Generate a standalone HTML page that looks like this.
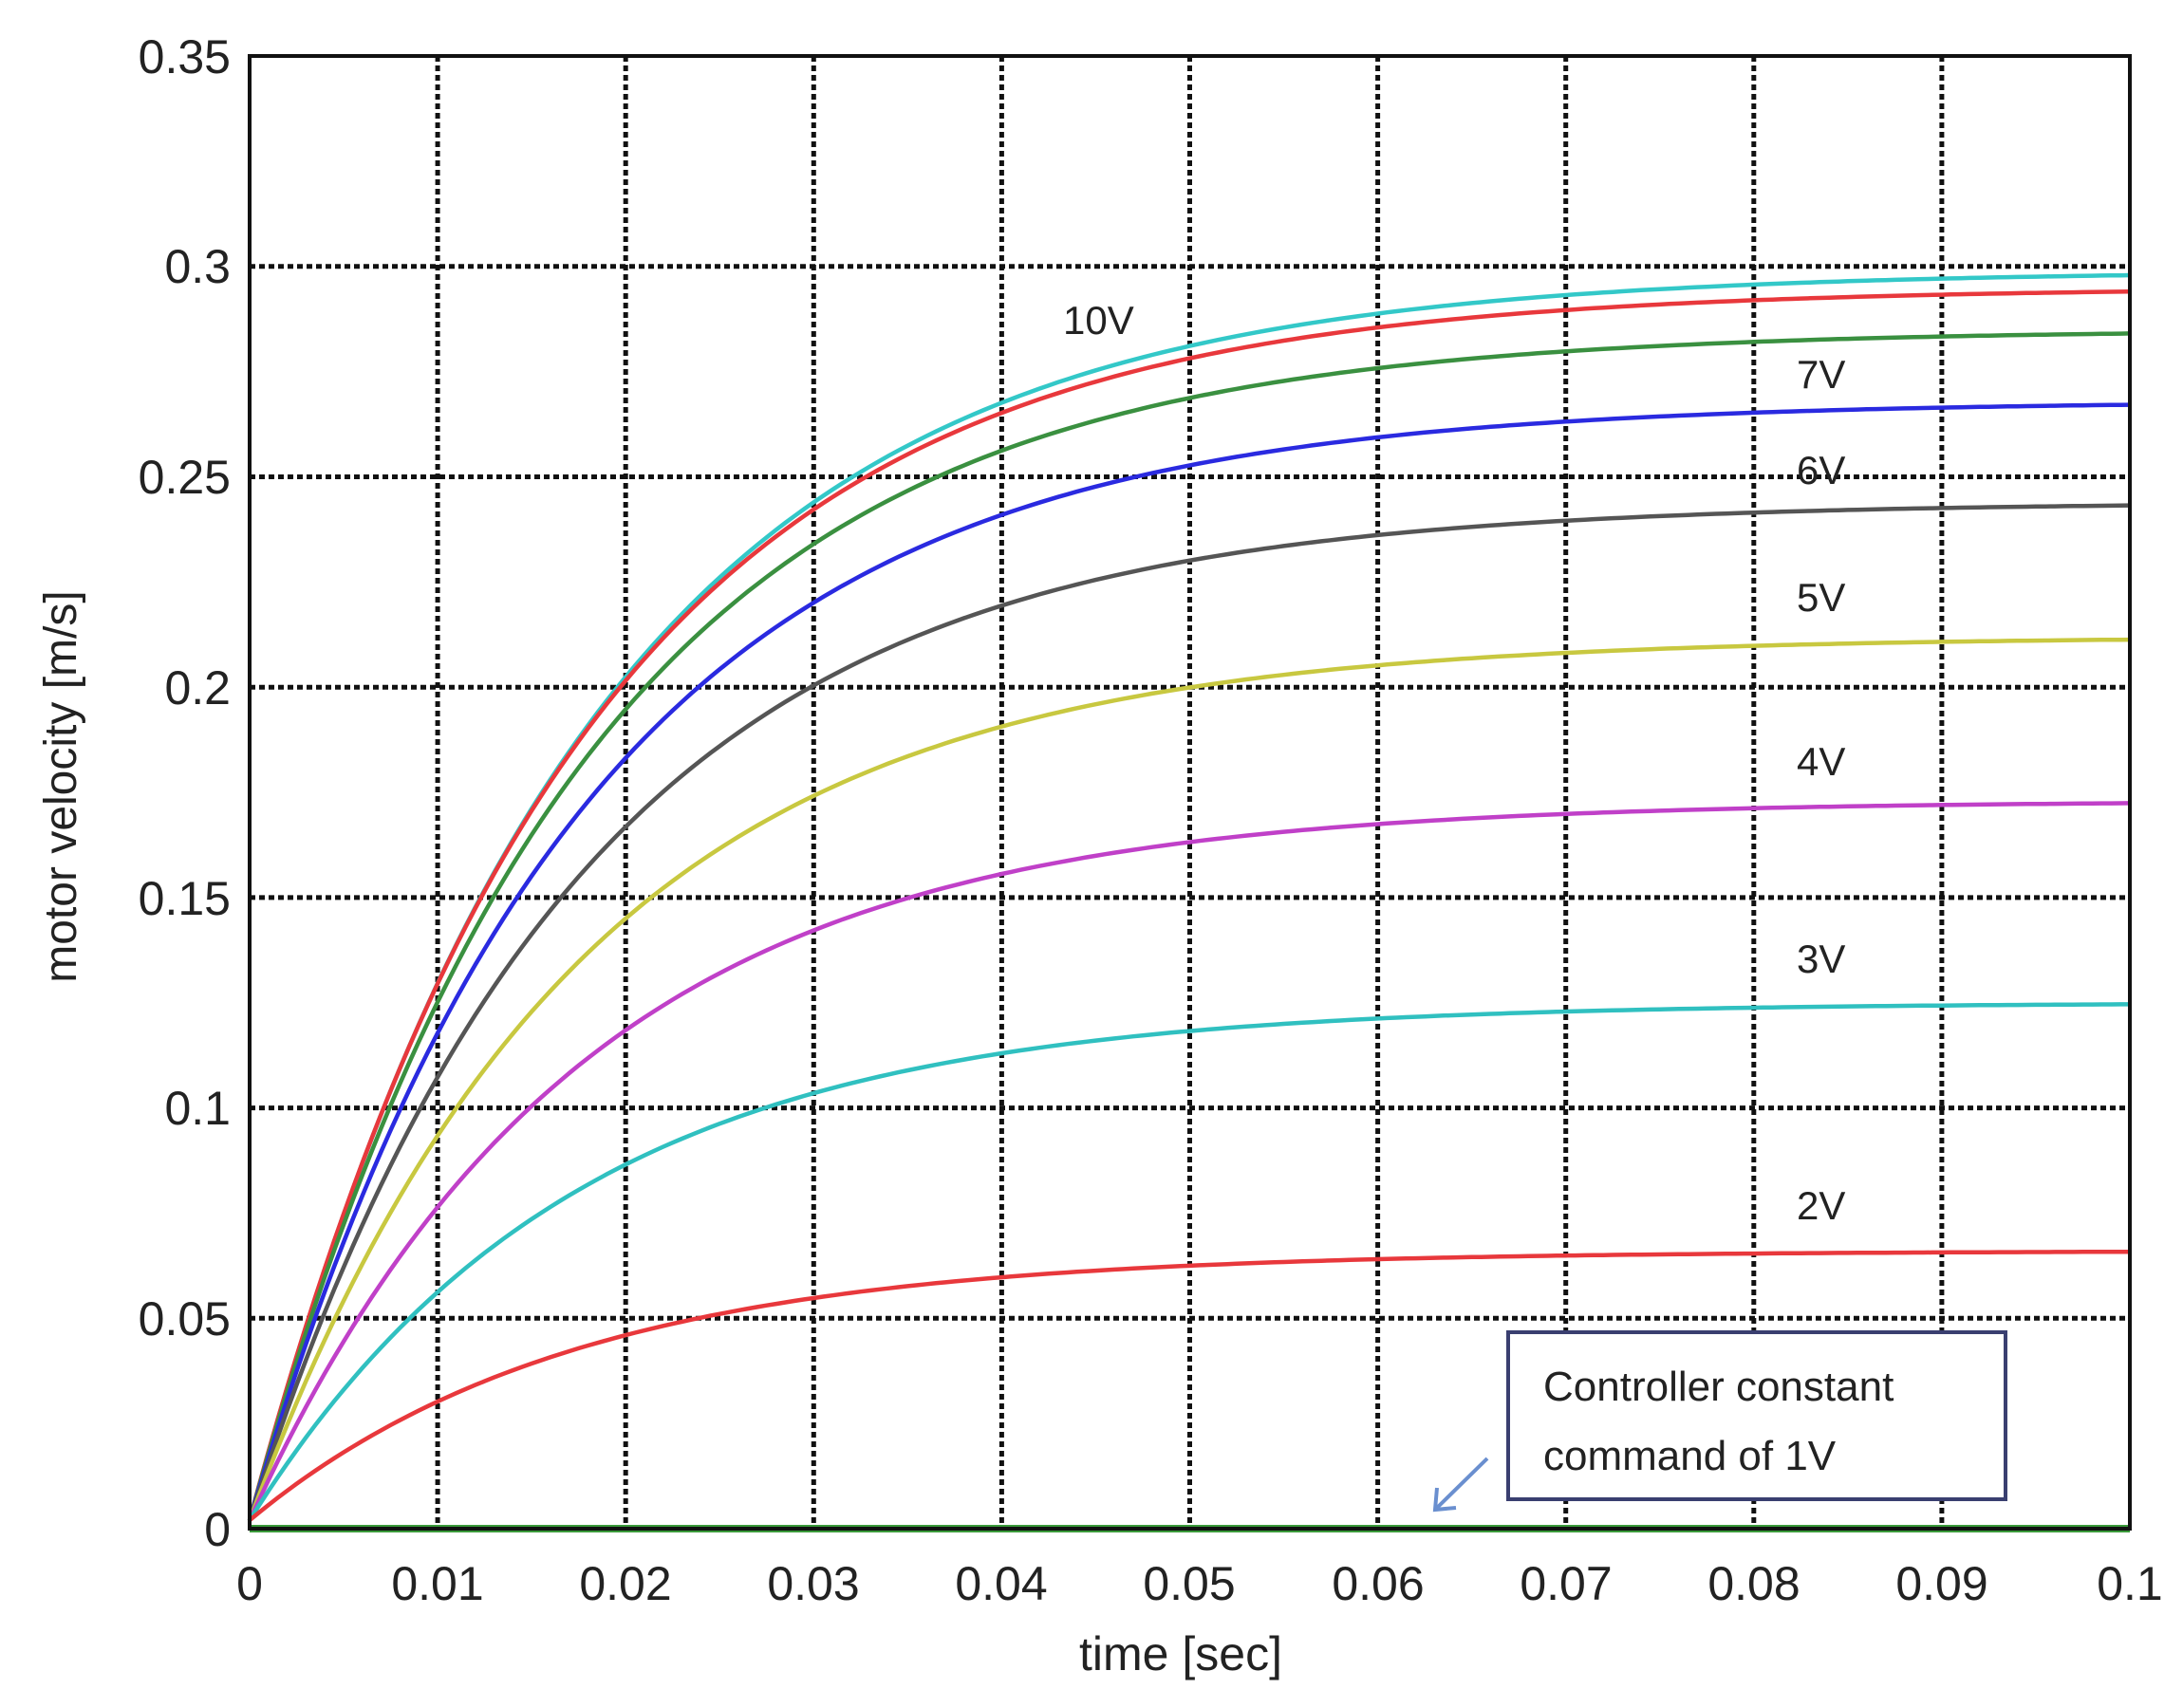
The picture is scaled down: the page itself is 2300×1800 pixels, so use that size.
<!DOCTYPE html>
<html><head><meta charset="utf-8"><style>
html,body{margin:0;padding:0;background:#fff;}
svg{display:block;}
text{font-family:"Liberation Sans",Arial,sans-serif;fill:#222;}
</style></head><body>
<svg id="s" width="2300" height="1800" viewBox="0 0 2300 1800" xmlns="http://www.w3.org/2000/svg">
<rect width="2300" height="1800" fill="#fff"/>
<g id="grid" stroke="#111" stroke-width="5" stroke-dasharray="6,4"></g>
<g id="curves" fill="none" stroke-width="4.5"></g>
<line x1="263" y1="1611" x2="2244" y2="1611" stroke="#3a9a3a" stroke-width="8"/>
<rect x="263" y="59" width="1981" height="1552" fill="none" stroke="#111" stroke-width="4"/>
<g font-size="50" text-anchor="end">
<text x="243" y="1629">0</text>
<text x="243" y="1407">0.05</text>
<text x="243" y="1185">0.1</text>
<text x="243" y="964">0.15</text>
<text x="243" y="742">0.2</text>
<text x="243" y="520">0.25</text>
<text x="243" y="298">0.3</text>
<text x="243" y="77">0.35</text>
</g>
<g font-size="50" text-anchor="middle">
<text x="263" y="1686">0</text>
<text x="461" y="1686">0.01</text>
<text x="659" y="1686">0.02</text>
<text x="857" y="1686">0.03</text>
<text x="1055" y="1686">0.04</text>
<text x="1253" y="1686">0.05</text>
<text x="1452" y="1686">0.06</text>
<text x="1650" y="1686">0.07</text>
<text x="1848" y="1686">0.08</text>
<text x="2046" y="1686">0.09</text>
<text x="2244" y="1686">0.1</text>
</g>
<text x="1244" y="1760" font-size="50" text-anchor="middle">time  [sec]</text>
<text transform="translate(80,829) rotate(-90)" font-size="48" text-anchor="middle">motor velocity [m/s]</text>
<g font-size="42">
<text x="1120" y="352">10V</text>
<text x="1893" y="409">7V</text>
<text x="1893" y="510">6V</text>
<text x="1893" y="644">5V</text>
<text x="1893" y="817">4V</text>
<text x="1893" y="1025">3V</text>
<text x="1893" y="1285">2V</text>
</g>
<rect x="1589" y="1404" width="524" height="176" fill="#fff" stroke="#3a3f70" stroke-width="4"/>
<g font-size="44">
<text x="1626" y="1476">Controller constant</text>
<text x="1626" y="1549">command of 1V</text>
</g>
<g stroke="#6a8fcf" stroke-width="4" fill="none">
<line x1="1567" y1="1537" x2="1512" y2="1591"/>
<polyline points="1514,1568 1512,1591 1534,1589"/>
</g>
</svg>
<script>
var ns="http://www.w3.org/2000/svg";
var g=document.getElementById('grid');
function ln(x1,y1,x2,y2){var l=document.createElementNS(ns,'line');l.setAttribute('x1',x1);l.setAttribute('y1',y1);l.setAttribute('x2',x2);l.setAttribute('y2',y2);g.appendChild(l);}
for(var i=1;i<10;i++){var x=263+i*198.1;ln(x,59,x,1611);}
for(var j=1;j<7;j++){var y=1611-j*221.7;ln(263,y,2244,y);}
var X=function(t){return 263+t/0.1*1981;},Y=function(v){return 1611-v/0.05*221.7;};
var S=[[0.299,'#33c8c8',0.0178],[0.295,'#e8383c',0.0175],[0.285,'#3a9040',0.0175],[0.268,'#2a2ae0',0.0175],[0.244,'#555',0.0175],[0.212,'#c8c840',0.0175],[0.173,'#c040c8',0.0175],[0.125,'#30c0c0',0.0172],[0.066,'#e8383c',0.0172]];
var c=document.getElementById('curves');
S.forEach(function(s){var d='';for(var k=0;k<=200;k++){var t=k*0.0005;var v=0.002+(s[0]-0.002)*(1-Math.exp(-t/s[2]));d+=(k?'L':'M')+X(t).toFixed(1)+','+Y(v).toFixed(1);}
var p=document.createElementNS(ns,'path');p.setAttribute('d',d);p.setAttribute('stroke',s[1]);c.appendChild(p);});
</script>
</body></html>
